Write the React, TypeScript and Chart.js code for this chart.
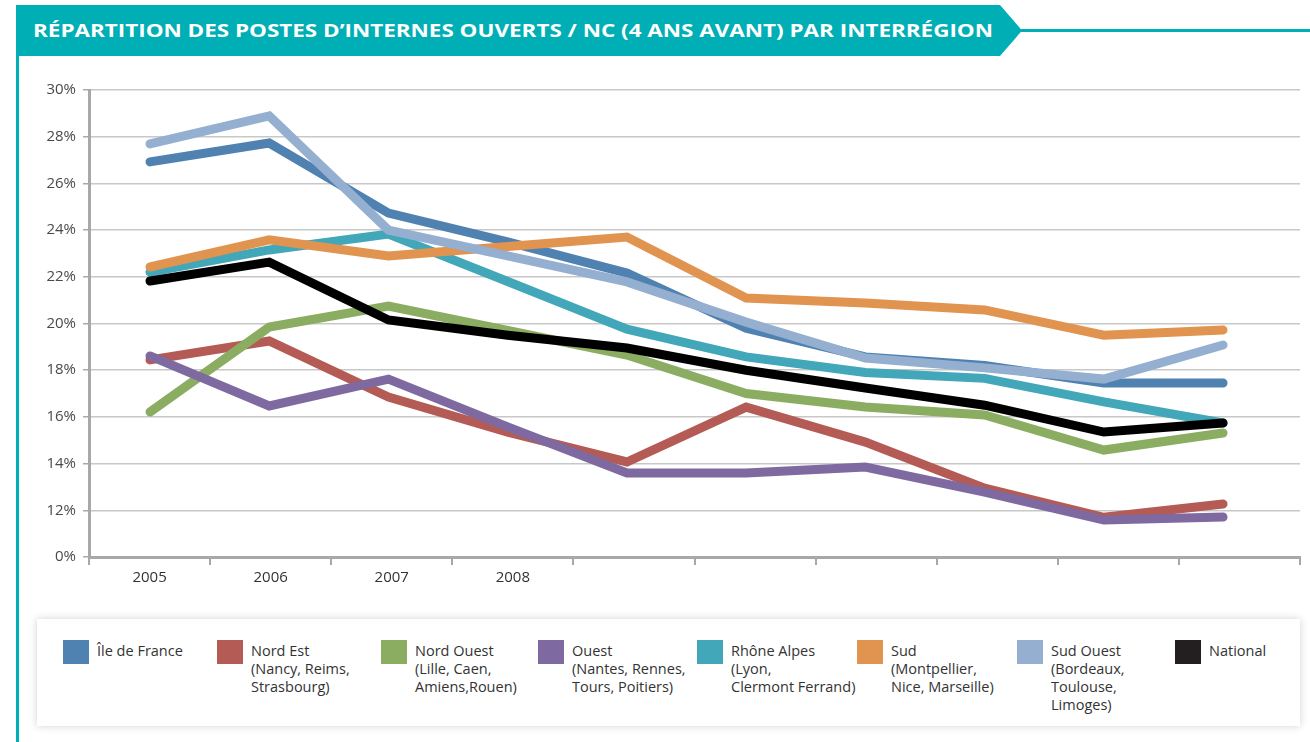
import React, { useEffect, useRef } from "react";
import { Chart, registerables } from "chart.js";
Chart.register(...registerables);

const TITLE = "RÉPARTITION DES POSTES D’INTERNES OUVERTS / NC (4 ANS AVANT) PAR INTERRÉGION";
const categories = ["2005", "2006", "2007", "2008", "", "", "", "", "", ""];
const yTickMin = 10;
const yTickMax = 30;

const seriesNames = ["Île de France", "Nord Est", "Nord Ouest", "Ouest", "Rhône Alpes", "Sud", "Sud Ouest", "National"];
const seriesSubLines = [
  [],
  ["(Nancy, Reims,", "Strasbourg)"],
  ["(Lille, Caen,", "Amiens,Rouen)"],
  ["(Nantes, Rennes,", "Tours, Poitiers)"],
  ["(Lyon,", "Clermont Ferrand)"],
  ["(Montpellier,", "Nice, Marseille)"],
  ["(Bordeaux,", "Toulouse,", "Limoges)"],
  [],
];
const seriesColors = ["#4f81b1", "#b35b54", "#8bad62", "#7e6aa0", "#41a7b9", "#e19350", "#94afd0", "#000000"];
const legendSwatchColors = ["#4f81b1", "#b35b54", "#8bad62", "#7e6aa0", "#41a7b9", "#e19350", "#94afd0", "#231f20"];

const ileDeFrance = [26.92, 27.73, 24.73, 23.5, 22.16, 19.8, 18.57, 18.2, 17.45, 17.45];
const nordEst = [18.44, 19.25, 16.85, 15.35, 14.07, 16.42, 14.92, 12.95, 11.7, 12.27];
const nordOuest = [16.21, 19.85, 20.75, 19.7, 18.65, 17.0, 16.42, 16.08, 14.58, 15.31];
const ouest = [18.61, 16.47, 17.62, 15.57, 13.6, 13.6, 13.85, 12.78, 11.58, 11.71];
const rhoneAlpes = [22.2, 23.15, 23.83, 21.8, 19.76, 18.57, 17.9, 17.65, 16.64, 15.74];
const sud = [22.42, 23.58, 22.89, 23.3, 23.7, 21.09, 20.88, 20.58, 19.5, 19.72];
const sudOuest = [27.69, 28.89, 24.0, 22.9, 21.78, 20.06, 18.52, 18.1, 17.62, 19.08];
const national = [21.82, 22.63, 20.15, 19.5, 18.95, 18.0, 17.24, 16.5, 15.35, 15.74];

const seriesValues = [ileDeFrance, nordEst, nordOuest, ouest, rhoneAlpes, sud, sudOuest, national];
const legendX = [63, 217, 381, 538, 697, 857, 1017, 1175];

const FONT = "'Open Sans', 'Noto Sans', sans-serif";

export default function App() {
  const ref = useRef<HTMLCanvasElement | null>(null);
  useEffect(() => {
    if (!ref.current) return;
    const chart = new Chart(ref.current, {
      type: "line",
      data: {
        datasets: seriesValues.map((vals, i) => ({
          label: seriesNames[i],
          data: vals.map((v, j) => ({ x: j, y: v })),
          borderColor: seriesColors[i],
          backgroundColor: seriesColors[i],
          borderWidth: 9,
          pointRadius: 0,
          borderCapStyle: "round",
          borderJoinStyle: "miter",
          tension: 0,
          order: 10 - i,
          xAxisID: "x",
          yAxisID: "y",
        })),
      },
      options: {
        animation: false,
        responsive: false,
        maintainAspectRatio: false,
        layout: { padding: { left: 0, right: 10, top: 20, bottom: 8 } },
        plugins: { legend: { display: false }, tooltip: { enabled: false } },
        scales: {
          x: {
            type: "linear",
            display: false,
            min: -0.5117,
            max: 9.6455,
          },
          xc: {
            type: "category",
            position: "bottom",
            labels: categories,
            offset: true,
            grid: {
              offset: true,
              drawOnChartArea: false,
              drawTicks: true,
              tickLength: 8,
              tickColor: "#a8a8a8",
              lineWidth: 2,
            },
            border: { display: true, color: "#a8a8a8", width: 3 },
            ticks: {
              autoSkip: false,
              maxRotation: 0,
              padding: 4,
              color: "#333333",
              font: { family: FONT, size: 15 },
            },
            afterFit: (s: any) => {
              s.height = 35;
            },
          },
          y: {
            type: "linear",
            min: yTickMin,
            max: yTickMax,
            ticks: {
              stepSize: 2,
              padding: 7,
              color: "#4a4a4a",
              font: { family: FONT, size: 15 },
              callback: (v: any) => (Number(v) === yTickMin ? "0%" : v + "%"),
            },
            grid: {
              color: "#c8c8c8",
              lineWidth: 1.5,
              tickLength: 6,
              tickColor: "#a8a8a8",
            },
            border: { display: true, color: "#a8a8a8", width: 3 },
            afterFit: (s: any) => {
              s.width = 69;
            },
          },
        },
      },
    } as any);
    return () => chart.destroy();
  }, []);

  return (
    <div style={{ position: "fixed", left: 0, top: 0, width: 1310, height: 742, background: "#fff", overflow: "hidden", fontFamily: FONT }}>
      <svg width={1310} height={742} style={{ position: "absolute", left: 0, top: 0 }}>
        <polygon points="16,5 1000,5 1022,30.5 1000,56 16,56" fill="#00aeb5" />
        <line x1={1020} y1={30.5} x2={1310} y2={30.5} stroke="#00aeb5" strokeWidth={3} />
        <line x1={17.5} y1={5} x2={17.5} y2={742} stroke="#00aeb5" strokeWidth={3} />
        <text x={33} y={37} fill="#ffffff" fontFamily={FONT} fontWeight={700} fontSize={17} textLength={960} lengthAdjust="spacingAndGlyphs">
          {TITLE}
        </text>
      </svg>
      <canvas ref={ref} width={1290} height={530} style={{ position: "absolute", left: 20, top: 70, width: 1290, height: 530 }} />
      <div style={{ position: "absolute", left: 37, top: 619, width: 1263, height: 107, background: "#fff", boxShadow: "0 0 8px rgba(0,0,0,0.18)" }} />
      {seriesNames.map((name, i) => (
        <div key={name} style={{ position: "absolute", left: legendX[i], top: 640 }}>
          <div style={{ position: "absolute", left: 0, top: 0, width: 26, height: 24, background: legendSwatchColors[i] }} />
          <div style={{ position: "absolute", left: 34, top: 2, whiteSpace: "nowrap", fontSize: 14.5, lineHeight: "18px", color: "#333" }}>
            {[name, ...seriesSubLines[i]].map((l, k) => (
              <div key={k}>{l}</div>
            ))}
          </div>
        </div>
      ))}
    </div>
  );
}
